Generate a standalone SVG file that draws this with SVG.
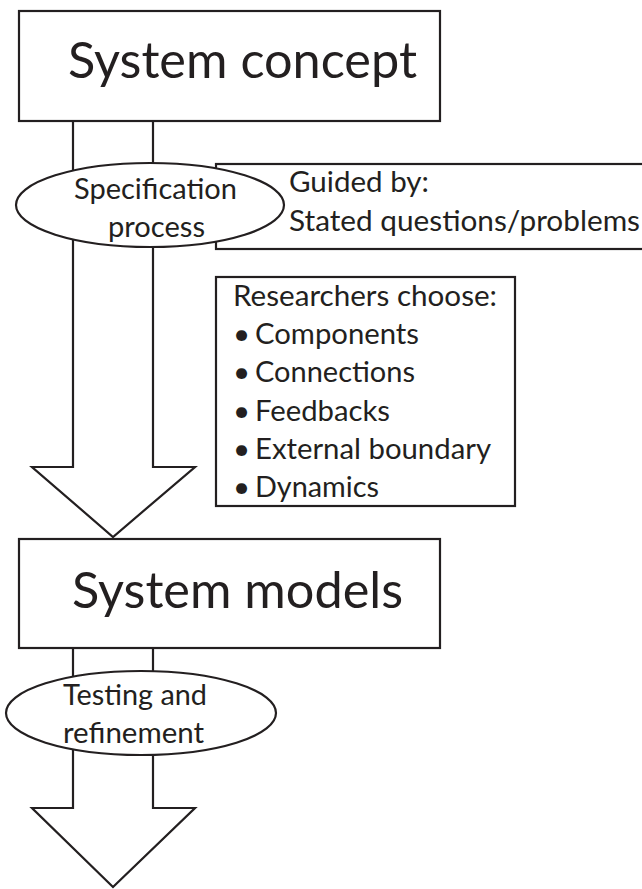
<svg xmlns="http://www.w3.org/2000/svg" width="642" height="889" viewBox="0 0 642 889">
<style>
.ln{fill:#fff;stroke:#231f20;stroke-width:2.2}
.big{font-family:Lato,"Open Sans","Liberation Sans",sans-serif;font-size:50px;fill:#231f20}
.md{font-family:Lato,"Open Sans","Liberation Sans",sans-serif;font-size:29.5px;fill:#231f20}
</style>
<rect width="642" height="889" fill="#fff"/>
<g id="connectors">
<polygon class="ln" points="73,121 73,467 32,467 113,537 195,467 153,467 153,121"/>
<polygon class="ln" points="73,648 73,808 32,808 113,887 195,808 153,808 153,648"/>
</g>
<g id="system-concept">
<rect class="ln" x="19" y="11" width="421" height="110"/>
<text class="big" x="68" y="78" textLength="349" lengthAdjust="spacingAndGlyphs">System concept</text>
</g>
<g id="guided-by">
<rect class="ln" x="216" y="164" width="450" height="85"/>
<text class="md" x="289" y="192" textLength="140" lengthAdjust="spacingAndGlyphs">Guided by:</text>
<text class="md" x="289" y="231" textLength="351" lengthAdjust="spacingAndGlyphs">Stated questions/problems</text>
</g>
<g id="specification-process">
<ellipse class="ln" cx="150" cy="205" rx="134" ry="42"/>
<text class="md" x="74" y="199" textLength="163" lengthAdjust="spacingAndGlyphs">Specification</text>
<text class="md" x="108" y="237" textLength="97" lengthAdjust="spacingAndGlyphs">process</text>
</g>
<g id="researchers-choose">
<rect class="ln" x="216" y="277" width="299" height="229"/>
<text class="md" x="233" y="306" textLength="264" lengthAdjust="spacingAndGlyphs">Researchers choose:</text>
<text class="md" x="233" y="344">•</text>
<text class="md" x="255" y="344" textLength="164" lengthAdjust="spacingAndGlyphs">Components</text>
<text class="md" x="233" y="382">•</text>
<text class="md" x="255" y="382" textLength="160" lengthAdjust="spacingAndGlyphs">Connections</text>
<text class="md" x="233" y="421">•</text>
<text class="md" x="255" y="421" textLength="135" lengthAdjust="spacingAndGlyphs">Feedbacks</text>
<text class="md" x="233" y="459">•</text>
<text class="md" x="255" y="459" textLength="236" lengthAdjust="spacingAndGlyphs">External boundary</text>
<text class="md" x="233" y="497">•</text>
<text class="md" x="255" y="497" textLength="124" lengthAdjust="spacingAndGlyphs">Dynamics</text>
</g>
<g id="system-models">
<rect class="ln" x="19" y="539" width="421" height="109"/>
<text class="big" x="72" y="608" textLength="331" lengthAdjust="spacingAndGlyphs">System models</text>
</g>
<g id="testing-refinement">
<ellipse class="ln" cx="141" cy="713" rx="135" ry="42"/>
<text class="md" x="63" y="705" textLength="144" lengthAdjust="spacingAndGlyphs">Testing and</text>
<text class="md" x="63" y="743" textLength="141" lengthAdjust="spacingAndGlyphs">refinement</text>
</g>
</svg>
